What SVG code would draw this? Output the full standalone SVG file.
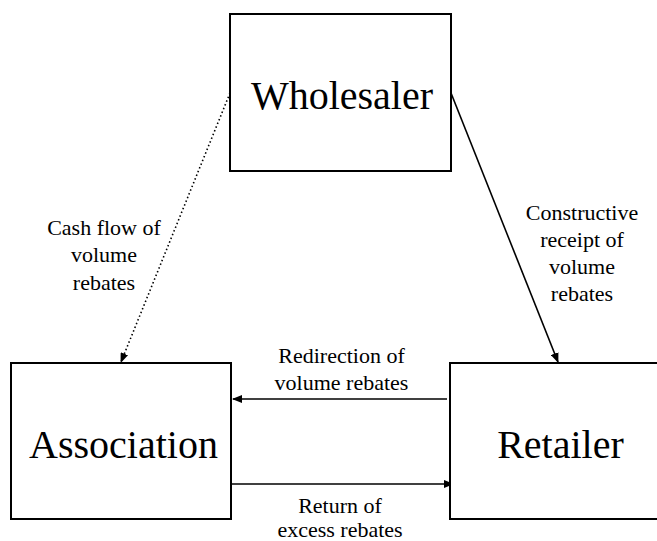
<svg xmlns="http://www.w3.org/2000/svg" width="657" height="541" viewBox="0 0 657 541">
<style>
.box{fill:#fff;stroke:#000;stroke-width:2}
.big{font-family:'Times New Roman',Times,Tinos,'Liberation Serif','Noto Serif','DejaVu Serif',serif;font-size:40px;fill:#000;text-anchor:middle}
.lbl{font-family:'Times New Roman',Times,Tinos,'Liberation Serif','Noto Serif','DejaVu Serif',serif;font-size:22px;fill:#000;text-anchor:middle}
.c{fill:none;stroke:#000;stroke-width:1.6}
</style>
<defs>
<marker id="ah" markerWidth="10" markerHeight="8" refX="9" refY="4" orient="auto" markerUnits="userSpaceOnUse">
<path d="M0,0 L10,4 L0,8 Z" fill="#000"/>
</marker>
</defs>
<rect width="657" height="541" fill="#fff"/>
<g id="connectors">
<line class="c" x1="230" y1="93" x2="121" y2="362" stroke-dasharray="1.5,2.5" marker-end="url(#ah)"/>
<line class="c" x1="451" y1="93" x2="558" y2="362" marker-end="url(#ah)"/>
<line class="c" x1="447" y1="399" x2="233" y2="399" marker-end="url(#ah)"/>
<line class="c" x1="231" y1="484" x2="453" y2="484" marker-end="url(#ah)"/>
<text class="lbl"><tspan x="104" y="235">Cash flow of</tspan><tspan x="104" y="262">volume</tspan><tspan x="104" y="290">rebates</tspan></text>
<text class="lbl"><tspan x="582" y="220">Constructive</tspan><tspan x="582" y="247">receipt of</tspan><tspan x="582" y="274">volume</tspan><tspan x="582" y="301">rebates</tspan></text>
<text class="lbl"><tspan x="341.5" y="363">Redirection of</tspan><tspan x="341.5" y="390">volume rebates</tspan></text>
<text class="lbl"><tspan x="340" y="513">Return of</tspan><tspan x="340" y="537">excess rebates</tspan></text>
</g>
<g id="wholesaler">
<rect class="box" x="230" y="14" width="221" height="157"/>
<text class="big" x="342" y="109">Wholesaler</text>
</g>
<g id="association">
<rect class="box" x="11" y="363" width="220" height="156"/>
<text class="big" x="123.5" y="458">Association</text>
</g>
<g id="retailer">
<rect class="box" x="450" y="363" width="220" height="156"/>
<text class="big" x="560.5" y="458">Retailer</text>
</g>
</svg>
